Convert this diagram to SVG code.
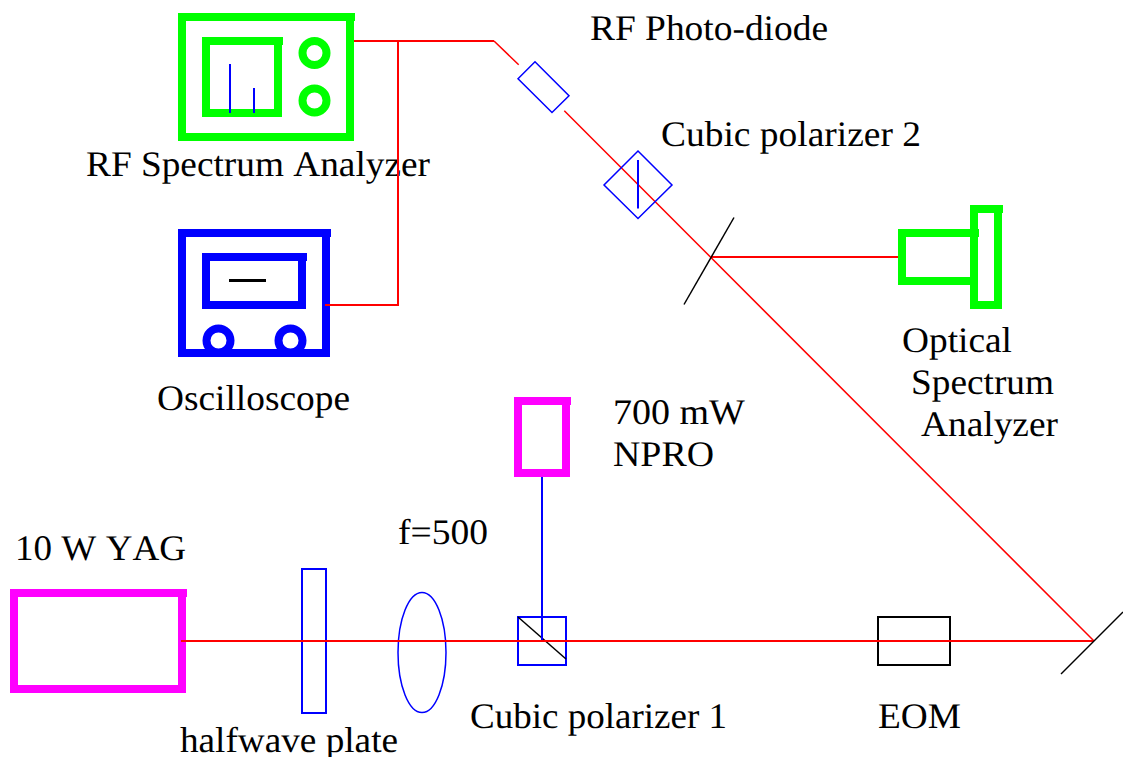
<svg xmlns="http://www.w3.org/2000/svg" width="1123" height="757" viewBox="0 0 1123 757">
<style>
text{font-family:"Liberation Serif","Times New Roman",serif;font-size:36px;fill:#000;font-kerning:none;text-rendering:geometricPrecision}
.r{fill:none;stroke:#f00;stroke-width:2}
.d{fill:none;stroke:#f00;stroke-width:1.5}
.g{fill:none;stroke:#0f0;stroke-width:8}
.b{fill:none;stroke:#00f;stroke-width:8}
.m{fill:none;stroke:#f0f;stroke-width:8}
.t{fill:none;stroke:#00f;stroke-width:2}
.th{fill:none;stroke:#00f;stroke-width:1.5}
.k{fill:none;stroke:#000;stroke-width:1.5}
.e{fill:none;stroke:#000;stroke-width:2}
</style>
<rect width="1123" height="757" fill="#fff"/>
<g id="rf-analyzer">
<path class="g" d="M355 17H182V137H350V17"/><path class="g" d="M283 41H206V113H278V41"/>
<circle class="g" cx="314.5" cy="53" r="12"/><circle class="g" cx="314.5" cy="100.5" r="12"/>
<path class="t" d="M230 64V113M254 88V113"/>
<text x="86" y="176" textLength="344" lengthAdjust="spacingAndGlyphs">RF Spectrum Analyzer</text>
</g>
<g id="oscilloscope">
<circle class="b" cx="218.5" cy="340.5" r="12"/><circle class="b" cx="290.5" cy="340.5" r="12"/>
<path class="b" d="M331 233H182V353H326V233"/><path class="b" d="M307 257H206V305H302V257"/>
<path d="M229 280.5H266" stroke="#000" stroke-width="3"/>
<text x="157" y="410" textLength="193" lengthAdjust="spacingAndGlyphs">Oscilloscope</text>
</g>
<g id="photodiode"><path class="th" d="M518 78.7L535 61.7L569 95.7L552 112.5Z"/><text x="590" y="40" textLength="238" lengthAdjust="spacingAndGlyphs">RF Photo-diode</text></g>
<g id="halfwave"><rect class="t" x="302" y="569" width="24" height="144"/><text x="180" y="752" textLength="218" lengthAdjust="spacingAndGlyphs">halfwave plate</text></g>
<g id="lens"><ellipse class="th" cx="422" cy="652.5" rx="24" ry="60"/><text x="398" y="544" textLength="90" lengthAdjust="spacingAndGlyphs">f=500</text></g>
<g id="polarizer1"><rect class="t" x="518" y="617" width="48" height="48"/><path class="k" d="M518 617L566 659"/><text x="470" y="728" textLength="257" lengthAdjust="spacingAndGlyphs">Cubic polarizer 1</text></g>
<g id="eom"><rect class="e" x="878" y="617" width="72" height="48"/><text x="878" y="728" textLength="83" lengthAdjust="spacingAndGlyphs">EOM</text></g>
<g id="osa">
<path class="g" d="M1003 209H974V305H998V209"/><path class="g" d="M979 233H902V281H974V233"/>
<text x="902" y="352" textLength="110" lengthAdjust="spacingAndGlyphs">Optical</text><text x="911" y="394" textLength="143" lengthAdjust="spacingAndGlyphs">Spectrum</text><text x="921" y="436" textLength="137" lengthAdjust="spacingAndGlyphs">Analyzer</text>
</g>
<g id="npro"><path class="m" d="M571 401H518V473H566V401"/><text x="613" y="424" textLength="132" lengthAdjust="spacingAndGlyphs">700 mW</text><text x="613" y="466" textLength="101" lengthAdjust="spacingAndGlyphs">NPRO</text></g>
<g id="yag"><path class="m" d="M187 593H14V689H182V593"/><text x="15" y="560" textLength="171" lengthAdjust="spacingAndGlyphs">10 W YAG</text></g>
<g id="connectors">
<path class="r" d="M354 41H494M398 41V305H325M181 641H1094M711 257H898"/>
<path class="d" d="M494 41L518.7 64.7M564.3 110.7L1094 641"/>
<path class="t" d="M542 477V640"/>
</g>
<g id="polarizer2"><path class="th" d="M638 151L672 185L638 218.5L604 185Z"/><path d="M638 160V208.5" stroke="#00f" stroke-width="2"/><text x="661" y="146" textLength="260" lengthAdjust="spacingAndGlyphs">Cubic polarizer 2</text></g>
<g id="splitter"><path class="k" d="M734 217.5L684 304.5"/></g>
<g id="mirror"><path class="k" d="M1123 612L1061 674"/></g>
</svg>
